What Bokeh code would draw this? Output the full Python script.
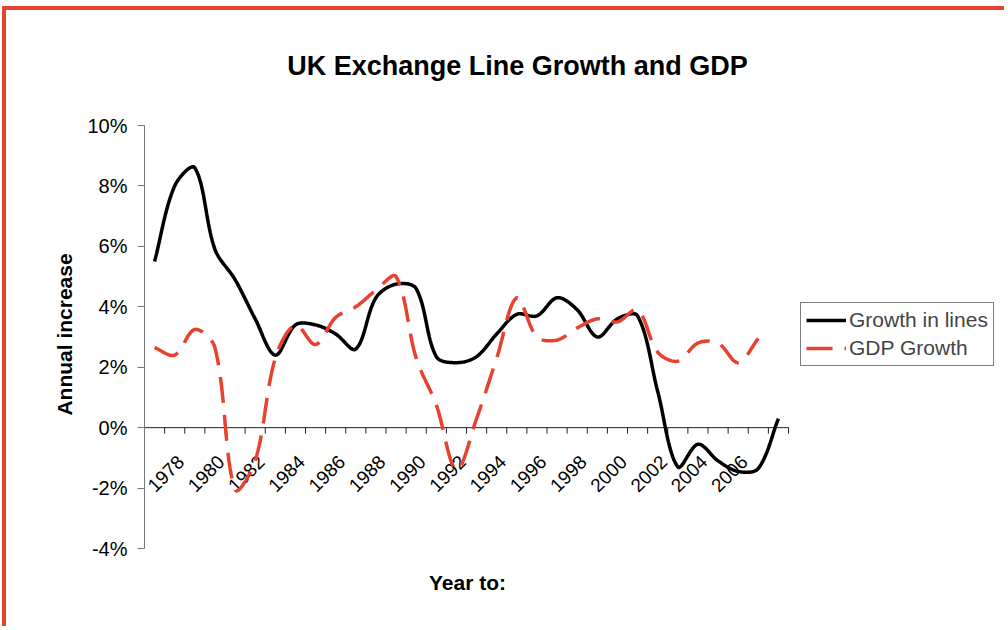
import math
import numpy as np
from bokeh.plotting import figure
from bokeh.models import (Range1d, FixedTicker, PrintfTickFormatter,
                          Label, Legend, LegendItem)
from bokeh.core.properties import value
from bokeh.embed import file_html
from bokeh.resources import INLINE

# ---------------- data ----------------
years = list(range(1976, 2008))
growth_in_lines = [5.5, 8.0, 8.6, 5.9, 4.9, 3.6, 2.4, 3.4, 3.4, 3.1,
                   2.6, 4.3, 4.75, 4.6, 2.35, 2.15, 2.35, 3.1, 3.75, 3.7,
                   4.3, 3.9, 3.0, 3.6, 3.7, 1.2, -1.3, -0.55, -1.1, -1.45,
                   -1.35, 0.3]
gdp_years = list(range(1976, 2007))
gdp_growth = [2.65, 2.4, 3.25, 2.65, -2.05, -1.1, 2.3, 3.4, 2.75, 3.65,
              4.0, 4.55, 5.0, 2.3, 0.75, -1.4, 0.3, 2.3, 4.3, 3.0,
              2.9, 3.3, 3.6, 3.5, 3.9, 2.5, 2.2, 2.8, 2.8, 2.15,
              2.95]
label_years = list(range(1976, 2007, 2))
y_ticks = [-4, -2, 0, 2, 4, 6, 8, 10]

FONT = "Liberation Sans"
RED = "#E8412F"
AXIS = "#222222"

# ---------------- layout (page pixels) ----------------
CAN_X, CAN_Y = 6, 10            # canvas origin on the page (after css border)
CAN_W, CAN_H = 1002, 620
FRAME_TOP = 38                  # page y where the drawing area starts
PLOT_LEFT, PLOT_RIGHT = 144, 788  # category axis extent
PLOT_TOP, PLOT_BOTTOM = 125, 548  # 10% ... -4%

x0 = years[0] - 0.5
x1 = years[-1] + 0.5
PX_X = (PLOT_RIGHT - PLOT_LEFT) / (x1 - x0)
PX_Y = (PLOT_BOTTOM - PLOT_TOP) / (y_ticks[-1] - y_ticks[0])
xr = Range1d(x0, x0 + (CAN_X + CAN_W - PLOT_LEFT) / PX_X)
yr = Range1d(y_ticks[0] - (CAN_Y + CAN_H - PLOT_BOTTOM) / PX_Y,
             y_ticks[-1] + (PLOT_TOP - FRAME_TOP) / PX_Y)


def px_x(px):
    return x0 + (px - PLOT_LEFT) / PX_X


def px_y(py):
    return y_ticks[0] + (PLOT_BOTTOM - py) / PX_Y


def smooth(xs, ys, n=20, t=1 / 3):
    """Excel-like smoothed line: cubic Bezier through the points, control
    points scaled by neighbouring segment lengths (in screen space)."""
    P = np.column_stack([np.asarray(xs, float) * PX_X,
                         np.asarray(ys, float) * PX_Y])
    N = len(P)

    def ctrl(i):
        pa = P[i - 1] if i > 0 else P[i]
        pb = P[i + 1] if i + 1 < N else P[i]
        da = np.hypot(*(P[i] - pa))
        db = np.hypot(*(pb - P[i]))
        s = da + db
        if s == 0:
            return P[i], P[i]
        return P[i] - t * da / s * (pb - pa), P[i] + t * db / s * (pb - pa)

    u = np.linspace(0, 1, n, endpoint=False)[:, None]
    pts = []
    for i in range(N - 1):
        _, c1 = ctrl(i)
        c2, _ = ctrl(i + 1)
        a, b = P[i], P[i + 1]
        pts.append((1 - u) ** 3 * a + 3 * (1 - u) ** 2 * u * c1
                   + 3 * (1 - u) * u ** 2 * c2 + u ** 3 * b)
    pts.append(P[-1][None, :])
    pts = np.vstack(pts)
    return list(pts[:, 0] / PX_X), list(pts[:, 1] / PX_Y)


p = figure(width=CAN_W, height=CAN_H, output_backend="svg", toolbar_location=None,
           x_range=xr, y_range=yr, x_axis_location=None,
           min_border_left=PLOT_LEFT - CAN_X, min_border_right=0,
           min_border_top=FRAME_TOP - CAN_Y, min_border_bottom=0,
           styles={"margin-left": "2px", "margin-top": "6px",
                   "border-left": "4px solid " + RED,
                   "border-top": "4px solid " + RED})
p.grid.visible = False
p.outline_line_color = None
p.background_fill_color = "white"
p.border_fill_color = "white"

# value axis
ya = p.yaxis[0]
ya.bounds = (y_ticks[0], y_ticks[-1])
ya.ticker = FixedTicker(ticks=y_ticks)
ya.formatter = PrintfTickFormatter(format="%d%%")
ya.axis_line_color = "#777777"
ya.major_tick_line_color = "#777777"
ya.major_tick_out = 7
ya.major_tick_in = 0
ya.minor_tick_out = 0
ya.minor_tick_in = 0
ya.major_label_standoff = 10
ya.major_label_text_font = FONT
ya.major_label_text_font_size = "20px"
ya.major_label_text_color = "black"
ya.axis_label = "Annual increase"
ya.axis_label_text_font = FONT
ya.axis_label_text_font_size = "21px"
ya.axis_label_text_font_style = "bold"
ya.axis_label_text_color = "black"
ya.axis_label_standoff = 8

# category axis at 0%
bounds = [y - 0.5 for y in years] + [years[-1] + 0.5]
tick_len = 6 / PX_Y
p.segment(x0=[bounds[0]], y0=[0], x1=[bounds[-1]], y1=[0],
          line_color=AXIS, line_width=1)
p.segment(x0=bounds, y0=[0] * len(bounds), x1=bounds,
          y1=[-tick_len] * len(bounds), line_color=AXIS, line_width=1)
p.text(x=label_years, y=[0] * len(label_years),
       text=[str(y) for y in label_years], angle=math.pi / 4,
       text_align="right", text_baseline="middle", x_offset=-14, y_offset=31,
       text_font=value(FONT), text_font_size="19px", text_color="black")

# series
gx, gy = smooth(years, growth_in_lines)
r1 = p.line(gx, gy, line_color="black", line_width=3.5)
dx, dy = smooth(gdp_years, gdp_growth)
r2 = p.line(dx, dy, line_color=RED, line_width=3.5, line_dash="26 12")

legend = Legend(items=[LegendItem(label="Growth in lines", renderers=[r1]),
                       LegendItem(label="GDP Growth", renderers=[r2])],
                location=(800 - PLOT_LEFT, CAN_Y + CAN_H - 366),
                border_line_color="black",
                border_line_width=1, background_fill_color="white",
                background_fill_alpha=1,
                label_text_font=FONT, label_text_font_size="21px",
                glyph_width=40, glyph_height=22, label_standoff=3,
                padding=5, spacing=4, margin=0)
p.add_layout(legend, "center")

# chart title and category axis title
p.add_layout(Label(x=px_x(517), y=px_y(65), text="UK Exchange Line Growth and GDP",
                   text_align="center", text_baseline="middle",
                   text_font=FONT, text_font_size="27px", text_font_style="bold",
                   text_color="black"))
p.add_layout(Label(x=px_x(467), y=px_y(582), text="Year to:",
                   text_align="center", text_baseline="middle",
                   text_font=FONT, text_font_size="21px", text_font_style="bold",
                   text_color="black"))

open("out.html", "w").write(file_html(p, INLINE))
